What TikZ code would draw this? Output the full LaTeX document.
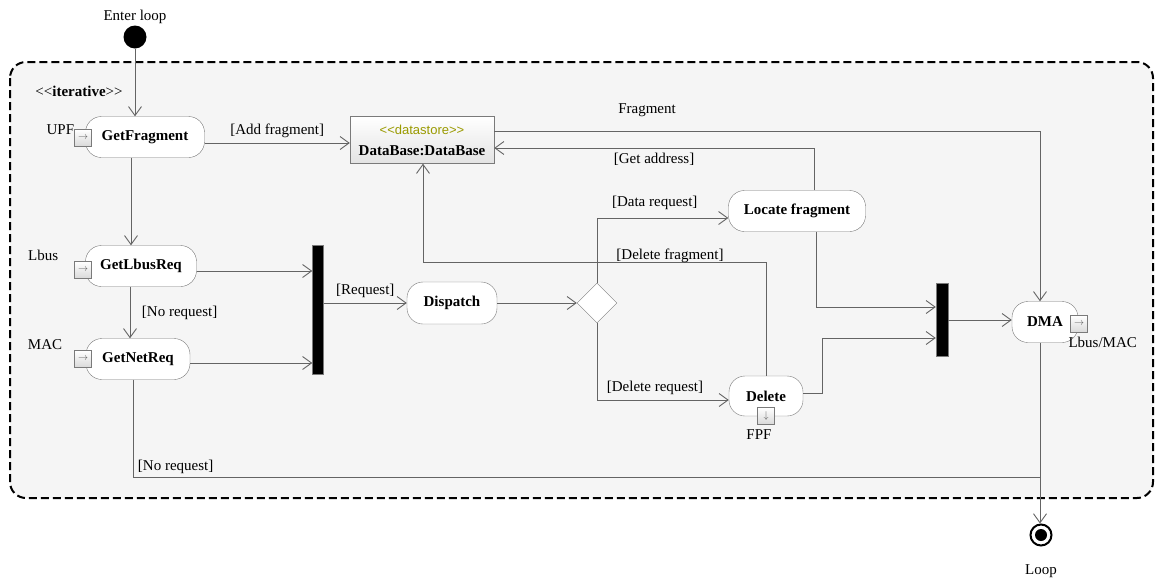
\documentclass[tikz,border=0pt]{standalone}
\usepackage{fontspec}
\setmainfont{Liberation Serif}[Scale=1.5]
\newfontfamily\stereofont{Liberation Sans}[Scale=1.3]
\usetikzlibrary{arrows.meta,positioning,calc,shapes.geometric}
\definecolor{wire}{HTML}{646464}
\definecolor{rim}{HTML}{7A7A7A}
\definecolor{loopbg}{HTML}{F5F5F5}
\definecolor{stereo}{HTML}{9A9A00}
\tikzset{
  action/.style={draw=rim,rounded corners=16pt,fill=white,font=\bfseries,inner sep=0pt,minimum height=41pt},
  portbox/.style={draw=rim,top color=white,bottom color=gray!30,minimum size=17pt,inner sep=0pt,text=black!65},
  forkbar/.style={draw=rim,fill=black,inner sep=0pt},
  choice/.style={diamond,draw=rim,fill=white,minimum width=40pt,minimum height=40pt,inner sep=0pt},
  store/.style={draw=rim,top color=white,bottom color=gray!22,align=center,inner sep=0pt,
    minimum width=144pt,minimum height=47pt},
  flow/.style={draw=wire,line width=0.9pt,-{Straight Barb[length=9pt,width=13pt]}},
  wireline/.style={draw=wire,line width=0.9pt},
  guard/.style={inner sep=1.5pt},
  region/.style={draw=black,fill=loopbg,line width=2pt,dash pattern=on 8pt off 4pt,rounded corners=16pt}
}
\begin{document}
\begin{tikzpicture}[x=1pt,y=-1pt]
 \useasboundingbox (0,0) rectangle (1157,579);
 % iterative region
 \draw[region] (10,62) rectangle (1153,498);
 \node (iterlbl) at (79,91) {<\kern0pt<\textbf{iterative}>\kern0pt>};

 \node[circle,fill=black,minimum size=23pt,inner sep=0pt] (start) at (135,37) {};
 \node[above=1pt of start,inner sep=0pt] (enterlbl) {Enter loop};

 % actions
 \node[action,minimum width=119pt] (getfrag) at (145,137) {GetFragment};
 \node[action,minimum width=111pt] (getlbus) at (141,266) {GetLbusReq};
 \node[action,minimum width=104pt] (getnet) at (138,359) {GetNetReq};
 \node[action,minimum width=90pt,minimum height=42pt] (dispatch) at (452,303) {Dispatch};
 \node[action,minimum width=137pt] (locate) at (797,211) {Locate fragment};
 \node[action,minimum width=74pt,minimum height=40pt] (delete) at (766,396) {Delete};
 \node[action,minimum width=66pt] (dma) at (1045,322) {DMA};
 \node[store] (db) at (422,140) {{\stereofont\color{stereo}<\kern0pt<datastore>\kern0pt>}\\[9pt]\textbf{DataBase:DataBase}};
 \node[choice] (decide) at (597,303) {};
 \node[forkbar,minimum width=11pt,minimum height=129pt] (join1) at (318,310) {};
 \node[forkbar,minimum width=12pt,minimum height=73pt] (join2) at (942,320) {};
 \node[circle,draw=black,line width=2pt,fill=white,minimum size=21pt,inner sep=0pt,
   path picture={\fill[black] (path picture bounding box.center) circle (6pt);}] (final) at (1041,535) {};
 \node[below=13pt of final] (looplbl) {Loop};

 % pins
 \node[portbox] (upfpin) at (83,138) {$\rightarrow$};
 \node[portbox] (lbuspin) at (83,270) {$\rightarrow$};
 \node[portbox] (macpin) at (83,359) {$\rightarrow$};
 \node[portbox] (fpfpin) at (766,416) {$\downarrow$};
 \node[portbox] (dmapin) at (1079,324) {$\rightarrow$};
 \node[left=0pt of upfpin.north west,inner sep=0pt] (upflbl) {UPF};
 \node[above left=0pt and 16pt of lbuspin.north west,inner sep=0pt] (lbuslbl) {Lbus};
 \node[above left=0pt and 12pt of macpin.north west,inner sep=0pt] (maclbl) {MAC};
 \node[below=5pt of fpfpin,xshift=-7pt,inner sep=0pt] (fpflbl) {FPF};
 \node[below right=4pt and -2pt of dmapin.south west,inner sep=0pt] (dmalbl) {Lbus/MAC};

 % flows
 \draw[flow] (start) -- (start |- getfrag.north);
 \draw[flow] ([yshift=-6pt]getfrag.east) -- node[guard,above=3pt]{[Add fragment]} ([yshift=-6pt]getfrag.east -| db.west);
 \draw[flow] ([xshift=-14pt]getfrag.south) -- ([xshift=-14pt]getfrag.south |- getlbus.north);
 \draw[flow] ([xshift=-11pt]getlbus.south) -- node[guard,right=10pt]{[No request]} ([xshift=-11pt]getlbus.south |- getnet.north);
 \draw[flow] ([yshift=-5pt]getlbus.east) -- ([yshift=-5pt]getlbus.east -| join1.west);
 \draw[flow] ([yshift=-4pt]getnet.east) -- ([yshift=-4pt]getnet.east -| join1.west);
 \draw[flow] (join1.east |- dispatch.west) -- node[guard,above=3pt]{[Request]} (dispatch.west);
 \draw[flow] (dispatch) -- (decide);
 \draw[flow] (decide.north) |- node[guard,pos=0.72,above=6pt]{[Data request]} ([yshift=-7pt]locate.west);
 \draw[flow] (decide.south) |- node[guard,pos=0.72,above=3pt]{[Delete request]} ([yshift=-4pt]delete.west);
 \draw[flow] ([xshift=17pt]locate.north) |- node[guard,pos=0.75,below=3pt]{[Get address]} ([yshift=-8pt]db.east);
 \coordinate (delbend) at (423,262);
 \draw[flow] (delete.north) |- node[guard,pos=0.64,above=-3pt]{[Delete fragment]} (delbend) -- (delbend |- db.south);
 \draw[flow] ([yshift=9pt]db.east) -| node[guard,pos=0.14,above=12pt]{Fragment} ([xshift=-5pt]dma.north);
 \draw[flow] ([xshift=19pt]locate.south) |- ([yshift=13pt]join2.west);
 \draw[flow] ([yshift=3pt]delete.east) -- ++(19,0) |- ([yshift=-18pt]join2.west);
 \draw[flow] (join2.east) -- (join2.east -| dma.west);
 \draw[flow] ([xshift=-5pt]dma.south) -- ([xshift=-5pt]dma.south |- final.north);
 \coordinate (merge) at (1040,477);
 \draw[wireline] ([xshift=-5pt]getnet.south) |- node[guard,pos=0.5,above right=1pt and 3pt]{[No request]} (merge);
\end{tikzpicture}
\end{document}
